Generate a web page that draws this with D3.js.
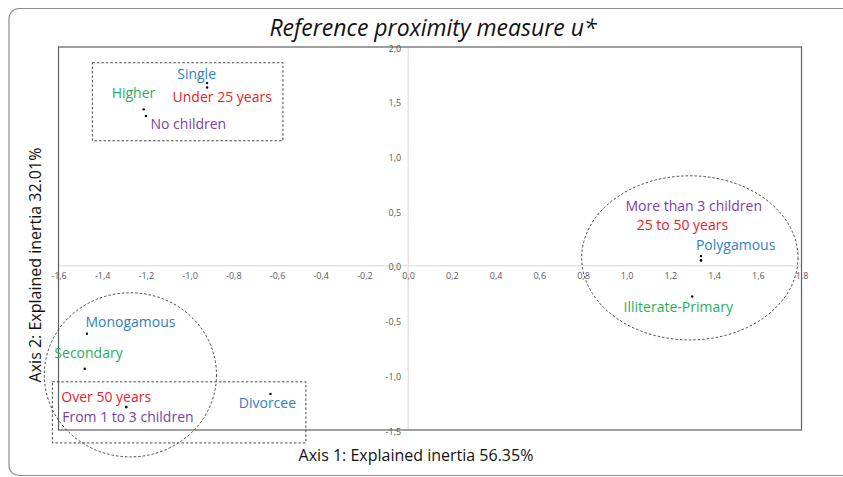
<!DOCTYPE html>
<html>
<head>
<meta charset="utf-8">
<script src="https://cdn.jsdelivr.net/npm/d3@7"></script>
<style>
  body { margin: 0; background: #fff; }
  svg { display: block; font-family: "Open Sans", Lato, sans-serif; }
</style>
</head>
<body>
<svg id="chart" width="843" height="477"></svg>
<script>
// modalities and their coordinates on the two factorial axes
const modalities = ['Single', 'Under 25 years', 'Higher', 'No children',
    'Polygamous', 'More than 3 children', '25 to 50 years', 'Illiterate-Primary',
    'Monogamous', 'Secondary', 'Over 50 years', 'From 1 to 3 children', 'Divorcee'];
const axis1 = [-0.92, -0.92, -1.21, -1.20, 1.34, 1.34, 1.34, 1.30, -1.47, -1.48, -1.29, -1.29, -0.63];
const axis2 = [1.67, 1.63, 1.43, 1.37, 0.09, 0.05, 0.05, -0.28, -0.62, -0.94, -1.29, -1.29, -1.17];
const variable = ['status', 'age', 'education', 'children', 'status', 'children', 'age', 'education',
    'status', 'education', 'age', 'children', 'status'];

// where each label sits (data units) and how it is anchored
const labelX = [-0.968, -1.078, -1.257, -1.179, 1.317, 1.307, 1.046, 0.986, -1.477, -1.619, -1.587, -1.583, -0.775];
const labelY = [1.709, 1.499, 1.536, 1.252, 0.146, 0.503, 0.329, -0.420, -0.558, -0.841, -1.243, -1.426, -1.298];
const labelAnchor = ['middle', 'start', 'middle', 'start', 'start', 'middle', 'start', 'start',
    'start', 'start', 'start', 'start', 'start'];

// grouping outlines, data units
const boxes = [[-1.445, 1.856, -0.573, 1.143], [-1.628, -1.060, -0.468, -1.618]];
const ellipses = [[1.289, 0.073, 0.495, 0.75], [-1.271, -0.996, 0.394, 0.75]];

const xTicks = [-1.6, -1.4, -1.2, -1.0, -0.8, -0.6, -0.4, -0.2, 0.0, 0.2, 0.4, 0.6, 0.8, 1.0, 1.2, 1.4, 1.6, 1.8];
const yTicks = [-1.5, -1.0, -0.5, 0.0, 0.5, 1.0, 1.5, 2.0];

const colors = { status: '#2e80c2', age: '#e8222a', education: '#25b15a', children: '#7a3ea9' };

const svg = d3.select('#chart');
const x = d3.scaleLinear().domain([-1.6, 1.8]).range([58.5, 801.5]);
const y = d3.scaleLinear().domain([-1.5, 2.0]).range([430, 47]);
const fmt = v => d3.format('.1f')(v).replace('.', ',').replace('\u2212', '-');

// outer frame
svg.append('rect').attr('x', 9).attr('y', 8.5).attr('width', 900).attr('height', 467)
    .attr('rx', 10).attr('fill', 'none').attr('stroke', '#8c8c8c').attr('stroke-width', 1.2);

svg.append('text').attr('x', 433).attr('y', 36).attr('text-anchor', 'middle')
    .style('font-style', 'italic').style('font-size', '23px').attr('fill', '#111')
    .text('Reference proximity measure u*');

// zero lines
svg.append('line').attr('x1', x(0)).attr('x2', x(0)).attr('y1', y(2)).attr('y2', y(-1.5))
    .attr('stroke', '#d9d9d9');
svg.append('line').attr('x1', x(-1.6)).attr('x2', x(1.8)).attr('y1', y(0)).attr('y2', y(0))
    .attr('stroke', '#d9d9d9');

// plot border
svg.append('rect').attr('x', x(-1.6)).attr('y', y(2)).attr('width', x(1.8) - x(-1.6))
    .attr('height', y(-1.5) - y(2)).attr('fill', 'none').attr('stroke', '#5f5f5f').attr('stroke-width', 1.2);

const gx = svg.append('g').attr('transform', `translate(0,${y(0) + 4})`)
    .call(d3.axisBottom(x).tickValues(xTicks).tickSize(0).tickFormat(fmt));
const gy = svg.append('g').attr('transform', `translate(${x(0) - 4},0)`)
    .call(d3.axisLeft(y).tickValues(yTicks).tickSize(0).tickFormat(fmt));
[gx, gy].forEach(g => {
    g.select('.domain').remove();
    g.selectAll('text').attr('fill', '#595959').style('font-size', '9px').style('font-family', '"Open Sans", sans-serif');
});
gy.selectAll('.tick text').attr('dy', '0.45em');

// groupings
svg.selectAll('rect.box').data(boxes).join('rect').attr('class', 'box')
    .attr('x', d => x(d[0])).attr('y', d => y(d[1]))
    .attr('width', d => x(d[2]) - x(d[0])).attr('height', d => y(d[3]) - y(d[1]))
    .attr('fill', 'none').attr('stroke', '#333').attr('stroke-width', 0.9).attr('stroke-dasharray', '2.5,2');
svg.selectAll('ellipse').data(ellipses).join('ellipse')
    .attr('cx', d => x(d[0])).attr('cy', d => y(d[1]))
    .attr('rx', d => x(d[0] + d[2]) - x(d[0])).attr('ry', d => y(d[1]) - y(d[1] + d[3]))
    .attr('fill', 'none').attr('stroke', '#333').attr('stroke-width', 0.9).attr('stroke-dasharray', '2.5,2');

// points
svg.selectAll('circle.pt').data(modalities).join('circle').attr('class', 'pt')
    .attr('cx', (d, i) => x(axis1[i])).attr('cy', (d, i) => y(axis2[i]))
    .attr('r', 1.2).attr('fill', '#000');

svg.selectAll('text.lbl').data(modalities).join('text').attr('class', 'lbl')
    .attr('x', (d, i) => x(labelX[i])).attr('y', (d, i) => y(labelY[i]))
    .attr('text-anchor', (d, i) => labelAnchor[i])
    .attr('fill', (d, i) => colors[variable[i]])
    .style('font-size', '14px')
    .text(d => d);

// axis titles
svg.append('text').attr('x', 416).attr('y', 461).attr('text-anchor', 'middle')
    .style('font-size', '16px').attr('fill', '#111').text('Axis 1: Explained inertia 56.35%');
svg.append('text').attr('transform', 'translate(41,265) rotate(-90)').attr('text-anchor', 'middle')
    .style('font-size', '16px').attr('fill', '#111').text('Axis 2: Explained inertia 32.01%');
</script>
</body>
</html>
